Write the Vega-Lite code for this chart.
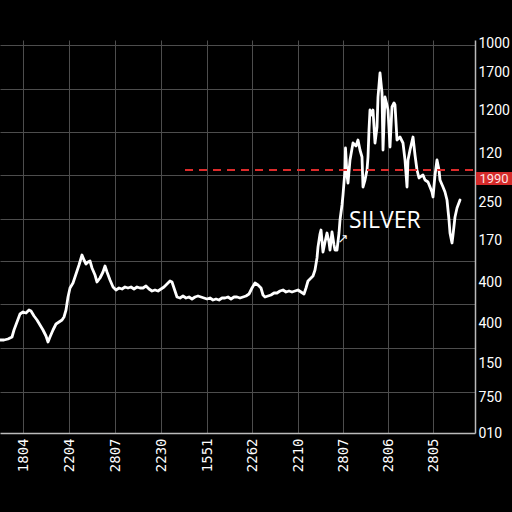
{
  "$schema": "https://vega.github.io/schema/vega-lite/v6.json",
  "width": 475,
  "height": 393,
  "autosize": {"type": "none"},
  "padding": {"left": 0, "top": 40, "right": 37, "bottom": 79},
  "background": "#000000",
  "config": {"view": {"stroke": null}},
  "encoding": {
    "x": {
      "field": "t", "type": "quantitative",
      "scale": {"domain": [0, 475], "nice": false, "zero": false},
      "axis": {
        "title": null, "orient": "bottom",
        "values": [23, 69, 115, 161, 207, 252, 298, 343, 388, 433],
        "labelExpr": "datum.value==23?'1804':datum.value==69?'2204':datum.value==115?'2807':datum.value==161?'2230':datum.value==207?'1551':datum.value==252?'2262':datum.value==298?'2210':datum.value==343?'2807':datum.value==388?'2806':'2805'",
        "grid": true, "gridColor": "#4d4d4d", "gridWidth": 1,
        "ticks": false, "domainColor": "#bbbbbb", "domainWidth": 1.5,
        "labelAngle": 270, "labelPadding": 5, "labelFont": "DejaVu Sans Mono",
        "labelFontSize": 14, "labelFontWeight": "normal", "labelColor": "#ffffff"
      }
    }
  },
  "layer": [
    {
      "data": {"values": [
        {"t":0,"v":93},{"t":4,"v":93},{"t":8,"v":94},{"t":12,"v":96},{"t":14,"v":103},{"t":17,"v":111},{"t":20,"v":119},{"t":23,"v":121},{"t":26,"v":120},{"t":29,"v":123},{"t":31,"v":122},{"t":34,"v":117},{"t":37,"v":113},{"t":40,"v":108},{"t":43,"v":103},{"t":46,"v":97},{"t":48,"v":91},{"t":50,"v":96},{"t":53,"v":103},{"t":56,"v":109},{"t":59,"v":111},{"t":62,"v":113},{"t":64,"v":116},{"t":66,"v":123},{"t":68,"v":136},{"t":70,"v":145},{"t":73,"v":150},{"t":76,"v":159},{"t":79,"v":168},{"t":82,"v":178},{"t":84,"v":173},{"t":86,"v":169},{"t":88,"v":171},{"t":90,"v":172},{"t":92,"v":165},{"t":95,"v":158},{"t":97,"v":151},{"t":100,"v":155},{"t":103,"v":161},{"t":105,"v":167},{"t":107,"v":161},{"t":110,"v":153},{"t":113,"v":146},{"t":116,"v":143},{"t":119,"v":145},{"t":122,"v":144},{"t":125,"v":146},{"t":128,"v":145},{"t":131,"v":146},{"t":134,"v":144},{"t":137,"v":146},{"t":140,"v":145},{"t":143,"v":145},{"t":146,"v":147},{"t":149,"v":144},{"t":152,"v":142},{"t":155,"v":143},{"t":158,"v":142},{"t":161,"v":144},{"t":164,"v":146},{"t":167,"v":149},{"t":170,"v":152},{"t":172,"v":151},{"t":174,"v":145},{"t":177,"v":136},{"t":180,"v":135},{"t":183,"v":137},{"t":186,"v":135},{"t":189,"v":136},{"t":192,"v":134},{"t":195,"v":136},{"t":198,"v":137},{"t":201,"v":136},{"t":204,"v":135},{"t":207,"v":134},{"t":210,"v":135},{"t":213,"v":133},{"t":216,"v":134},{"t":219,"v":133},{"t":222,"v":135},{"t":225,"v":135},{"t":228,"v":136},{"t":231,"v":134},{"t":234,"v":136},{"t":237,"v":136},{"t":240,"v":135},{"t":243,"v":136},{"t":246,"v":137},{"t":249,"v":139},{"t":252,"v":145},{"t":255,"v":150},{"t":258,"v":148},{"t":261,"v":145},{"t":263,"v":138},{"t":265,"v":136},{"t":268,"v":137},{"t":271,"v":138},{"t":274,"v":140},{"t":277,"v":140},{"t":280,"v":142},{"t":283,"v":143},{"t":286,"v":141},{"t":289,"v":142},{"t":292,"v":141},{"t":295,"v":142},{"t":298,"v":143},{"t":301,"v":141},{"t":304,"v":139},{"t":306,"v":145},{"t":308,"v":152},{"t":311,"v":155},{"t":313,"v":157},{"t":315,"v":163},{"t":317,"v":175},{"t":318,"v":186},{"t":320,"v":199},{"t":321,"v":203},{"t":323,"v":181},{"t":325,"v":191},{"t":327,"v":200},{"t":329,"v":191},{"t":330,"v":183},{"t":332,"v":201},{"t":334,"v":188},{"t":335,"v":183},{"t":337,"v":183},{"t":339,"v":200},{"t":340,"v":213},{"t":342,"v":228},{"t":343,"v":238},{"t":345,"v":263},{"t":345.5,"v":285},{"t":347,"v":258},{"t":348,"v":250},{"t":350,"v":273},{"t":353,"v":290},{"t":356,"v":287},{"t":358,"v":293},{"t":360,"v":283},{"t":362,"v":276},{"t":363,"v":246},{"t":365,"v":253},{"t":367,"v":263},{"t":368,"v":276},{"t":369,"v":303},{"t":370,"v":323},{"t":372,"v":318},{"t":373,"v":323},{"t":375,"v":290},{"t":377,"v":306},{"t":378,"v":336},{"t":380,"v":360},{"t":382,"v":340},{"t":383,"v":283},{"t":385,"v":336},{"t":387,"v":328},{"t":388,"v":323},{"t":390,"v":286},{"t":392,"v":326},{"t":394,"v":330},{"t":395,"v":328},{"t":397,"v":293},{"t":400,"v":296},{"t":403,"v":290},{"t":405,"v":273},{"t":407,"v":246},{"t":408,"v":273},{"t":410,"v":283},{"t":413,"v":296},{"t":415,"v":278},{"t":417,"v":263},{"t":419,"v":255},{"t":420,"v":256},{"t":423,"v":258},{"t":425,"v":253},{"t":428,"v":251},{"t":430,"v":246},{"t":432,"v":241},{"t":433,"v":236},{"t":435,"v":258},{"t":437,"v":273},{"t":439,"v":263},{"t":440,"v":253},{"t":443,"v":246},{"t":445,"v":241},{"t":447,"v":233},{"t":449,"v":213},{"t":450,"v":200},{"t":452,"v":190},{"t":453,"v":198},{"t":455,"v":216},{"t":457,"v":225},{"t":460,"v":233}
      ]},
      "mark": {"type": "line", "color": "#ffffff", "strokeWidth": 2.8, "strokeJoin": "round", "strokeCap": "round"},
      "encoding": {
        "y": {
          "field": "v", "type": "quantitative",
          "scale": {"domain": [0, 393], "nice": false, "zero": false},
          "axis": {
            "title": null, "orient": "left",
            "values": [41, 85, 129, 172, 214, 258, 301, 344, 388],
            "grid": true, "gridColor": "#4d4d4d", "gridWidth": 1,
            "labels": false, "ticks": false, "domain": false
          }
        }
      }
    },
    {
      "data": {"values": [{"t": 185, "t2": 475, "v": 263}]},
      "mark": {"type": "rule", "color": "#dd2b2b", "strokeWidth": 2, "strokeDash": [8, 6]},
      "encoding": {
        "x2": {"field": "t2"},
        "y": {
          "field": "v", "type": "quantitative",
          "scale": {"domain": [0, 393], "nice": false, "zero": false},
          "axis": {
            "title": null, "orient": "right",
            "values": [0, 36, 70, 110, 151, 193, 231, 280, 323, 361, 390],
            "labelExpr": "datum.value==0?'010':datum.value==36?'750':datum.value==70?'150':datum.value==110?'400':datum.value==151?'400':datum.value==193?'170':datum.value==231?'250':datum.value==280?'120':datum.value==323?'1200':datum.value==361?'1700':'1000'",
            "grid": false, "ticks": false, "domain": true,
            "domainColor": "#bbbbbb", "domainWidth": 1.5,
            "labelPadding": 3, "labelFont": "Roboto", "labelFontSize": 14,
            "labelColor": "#ffffff"
          }
        }
      }
    },
    {
      "data": {"values": [{"t": 476, "t2": 512, "v": 248, "v2": 261}]},
      "mark": {"type": "rect", "color": "#d42a2a"},
      "encoding": {
        "x2": {"field": "t2"},
        "y": {"field": "v", "type": "quantitative", "scale": {"domain": [0, 393], "nice": false, "zero": false}, "axis": null},
        "y2": {"field": "v2"}
      }
    },
    {
      "data": {"values": [{"t": 494, "v": 254.5, "label": "1990"}]},
      "mark": {"type": "text", "color": "#ffe2e2", "font": "Roboto", "fontSize": 13, "align": "center", "baseline": "middle"},
      "encoding": {
        "y": {"field": "v", "type": "quantitative", "scale": {"domain": [0, 393], "nice": false, "zero": false}, "axis": null},
        "text": {"field": "label"}
      }
    },
    {
      "data": {"values": [{"t": 349, "v": 212, "label": "SILVER"}]},
      "mark": {"type": "text", "color": "#ffffff", "font": "Open Sans", "fontSize": 23, "align": "left", "baseline": "middle"},
      "encoding": {
        "y": {"field": "v", "type": "quantitative", "scale": {"domain": [0, 393], "nice": false, "zero": false}, "axis": null},
        "text": {"field": "label"}
      }
    },
    {
      "data": {"values": [{"t": 343, "v": 194, "label": "↗"}]},
      "mark": {"type": "text", "color": "#ffffff", "font": "DejaVu Sans", "fontSize": 13, "align": "center", "baseline": "middle"},
      "encoding": {
        "y": {"field": "v", "type": "quantitative", "scale": {"domain": [0, 393], "nice": false, "zero": false}, "axis": null},
        "text": {"field": "label"}
      }
    }
  ],
  "resolve": {"axis": {"y": "independent"}}
}
